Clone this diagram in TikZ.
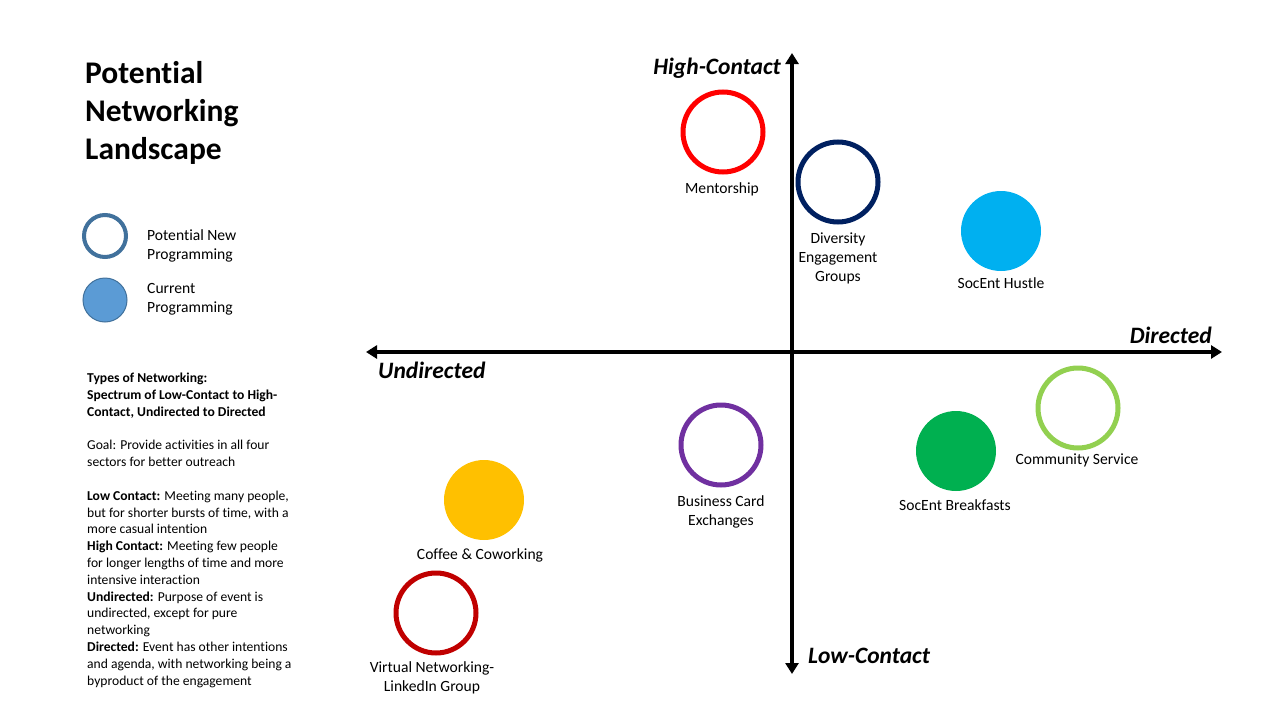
\documentclass[tikz,border=0pt]{standalone}
\usepackage{fontspec}
\setmainfont{Carlito}[Ligatures=NoCommon]
\usepackage{xcolor}
\usepackage{tikz}
\usetikzlibrary{arrows.meta, positioning}

\definecolor{ringred}{HTML}{FF0000}
\definecolor{ringnavy}{HTML}{002060}
\definecolor{ringlime}{HTML}{92D050}
\definecolor{ringpurple}{HTML}{7030A0}
\definecolor{ringdarkred}{HTML}{C00000}
\definecolor{dotsky}{HTML}{00B0F0}
\definecolor{dotgreen}{HTML}{00B050}
\definecolor{dotgold}{HTML}{FFC000}
\definecolor{legendblue}{HTML}{5B9BD5}
\definecolor{legendedge}{HTML}{41719C}

\begin{document}
\begin{tikzpicture}[x=1pt, y=-1pt,
    ring/.style={circle, draw=#1, line width=5pt, minimum size=80pt, inner sep=0pt},
    dot/.style={circle, fill=#1, minimum size=80pt, inner sep=0pt},
    lbl/.style={font=\fontsize{15.6}{19}\selectfont, align=center, inner sep=0pt},
    axislbl/.style={font=\fontsize{23.5}{28}\selectfont\bfseries\itshape, inner sep=0pt},
    axis/.style={line width=4pt, {Triangle[length=11pt,width=13pt]}-{Triangle[length=11pt,width=13pt]}}]
    \useasboundingbox (0,0) rectangle (1280,720);

    % Title
    \node[anchor=north west, inner sep=0pt, align=left,
          font=\fontsize{31.5}{38}\selectfont\bfseries] (title) at (85,61)
        {Potential\\Networking\\Landscape};

    % Legend
    \node[circle, draw=legendedge, line width=4pt, minimum size=42pt, inner sep=0pt] (newleg) at (105,236) {};
    \node[circle, draw=legendedge, fill=legendblue, line width=1pt, minimum size=44pt, inner sep=0pt] (curleg) at (105,300) {};
    \node[lbl, align=left, anchor=base west] (newtxt) at (147,259) {Potential New\\Programming};
    \node[lbl, align=left, anchor=base west] (curtxt) at (147,312) {Current\\Programming};

    % Notes
    \node[anchor=north west, inner sep=0pt, align=left,
          font=\fontsize{13.6}{16.8}\selectfont] (notes) at (87,373)
        {\textbf{Types of Networking:}\\
         \textbf{Spectrum of Low-Contact to High-}\\
         \textbf{Contact, Undirected to Directed}\\[16.8pt]
         Goal: Provide activities in all four\\
         sectors for better outreach\\[16.8pt]
         \textbf{Low Contact:} Meeting many people,\\
         but for shorter bursts of time, with a\\
         more casual intention\\
         \textbf{High Contact:} Meeting few people\\
         for longer lengths of time and more\\
         intensive interaction\\
         \textbf{Undirected:} Purpose of event is\\
         undirected, except for pure\\
         networking\\
         \textbf{Directed:} Event has other intentions\\
         and agenda, with networking being a\\
         byproduct of the engagement};

    % Axes
    \coordinate (west) at (366,352);
    \coordinate (east) at (1222,352);
    \coordinate (north) at (792,53);
    \coordinate (south) at (792,674);
    \draw[axis] (west) -- (east);
    \draw[axis] (south) -- (north);
    \node[axislbl, anchor=base east] (high) at (781,74) {High-Contact};
    \node[axislbl, anchor=base west] (low) at (808,663) {Low-Contact};
    \node[axislbl, anchor=base east] (dir) at (1212,343) {Directed};
    \node[axislbl, anchor=base west] (undir) at (378,378) {Undirected};

    % Programs
    \node[ring=ringred] (ment) at (723,132) {};
    \node[lbl, anchor=base] (mentL) at (722,193) {Mentorship};

    \node[ring=ringnavy] (div) at (838,182) {};
    \node[lbl, anchor=base] (divL) at (838,281) {Diversity\\Engagement\\Groups};

    \node[dot=dotsky] (hustle) at (1001,231) {};
    \node[lbl, anchor=base] (hustleL) at (1001,288) {SocEnt Hustle};

    \node[ring=ringlime] (comm) at (1078,408) {};
    \node[lbl, anchor=base] (commL) at (1077,464) {Community Service};

    \node[dot=dotgreen] (bfast) at (956,451) {};
    \node[lbl, anchor=base] (bfastL) at (955,510) {SocEnt Breakfasts};

    \node[ring=ringpurple] (bcard) at (721,445) {};
    \node[lbl, anchor=base] (bcardL) at (721,525) {Business Card\\Exchanges};

    \node[dot=dotgold] (coffee) at (484,500) {};
    \node[lbl, anchor=base] (coffeeL) at (480,559) {Coffee \& Coworking};

    \node[ring=ringdarkred] (virt) at (436,613) {};
    \node[lbl, anchor=base] (virtL) at (432,691) {Virtual Networking-\\LinkedIn Group};
\end{tikzpicture}
\end{document}
